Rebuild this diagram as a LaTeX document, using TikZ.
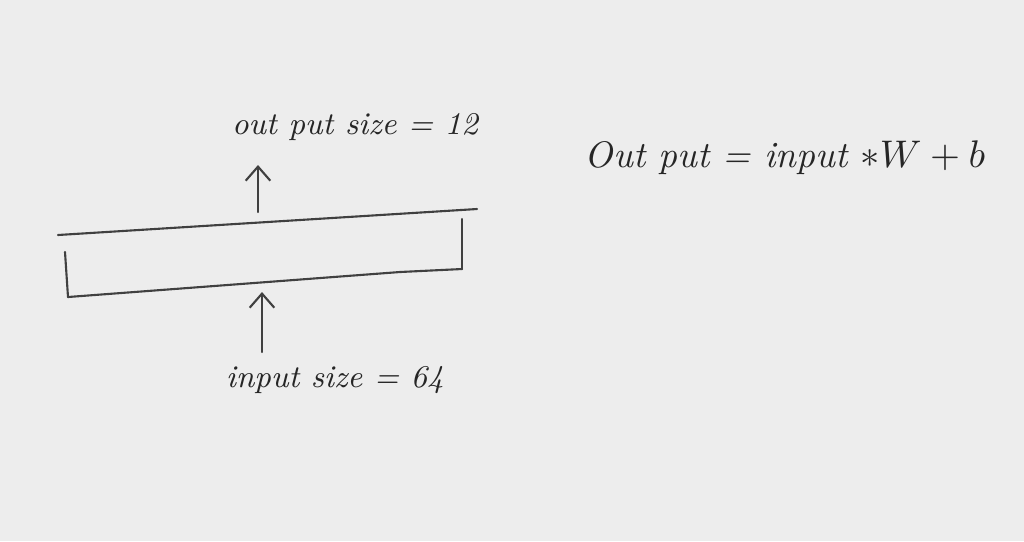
\documentclass[tikz,border=0pt]{standalone}
\usetikzlibrary{arrows.meta}
\begin{document}
\begin{tikzpicture}[x=0.01cm,y=-0.01cm,
  pen/.style={draw=black!75,line width=0.6pt,line cap=round},
  arr/.style={pen,-{Straight Barb[length=4pt,width=7pt]}},
  lbl/.style={text=black!85,inner sep=1pt,font=\fontsize{9}{11}\selectfont\itshape}]
\fill[black!7] (0,0) rectangle (1024,541);
\useasboundingbox (0,0) rectangle (1024,541);
% box (hand-drawn layer)
\coordinate (tl) at (58,235);
\coordinate (tr) at (477,209);
\coordinate (rt) at (462,219);
\coordinate (rb) at (462,269);
\coordinate (bl) at (68,297);
\coordinate (lt) at (65,252);
\coordinate (outfoot) at (258,212);
\coordinate (infoot) at (262,352);
\coordinate (intip) at (262,292);
\draw[pen] (tl) -- (tr);
\draw[pen] (rt) -- (rb);
\draw[pen] (bl) -- (400,272) -- (rb);
\draw[pen] (lt) -- (bl);
% labels
\node[lbl] (out) at (355,127) {out put size = 12};
\node[lbl] (in) at (335,380) {input size = 64};
\node[lbl,font=\fontsize{10.5}{13}\selectfont\itshape] (eq) at (785,158) {Out put = input $*W+b$};
% arrows
\draw[arr] (outfoot) -- (258,165);
\draw[arr] (infoot) -- (intip);
\end{tikzpicture}
\end{document}
